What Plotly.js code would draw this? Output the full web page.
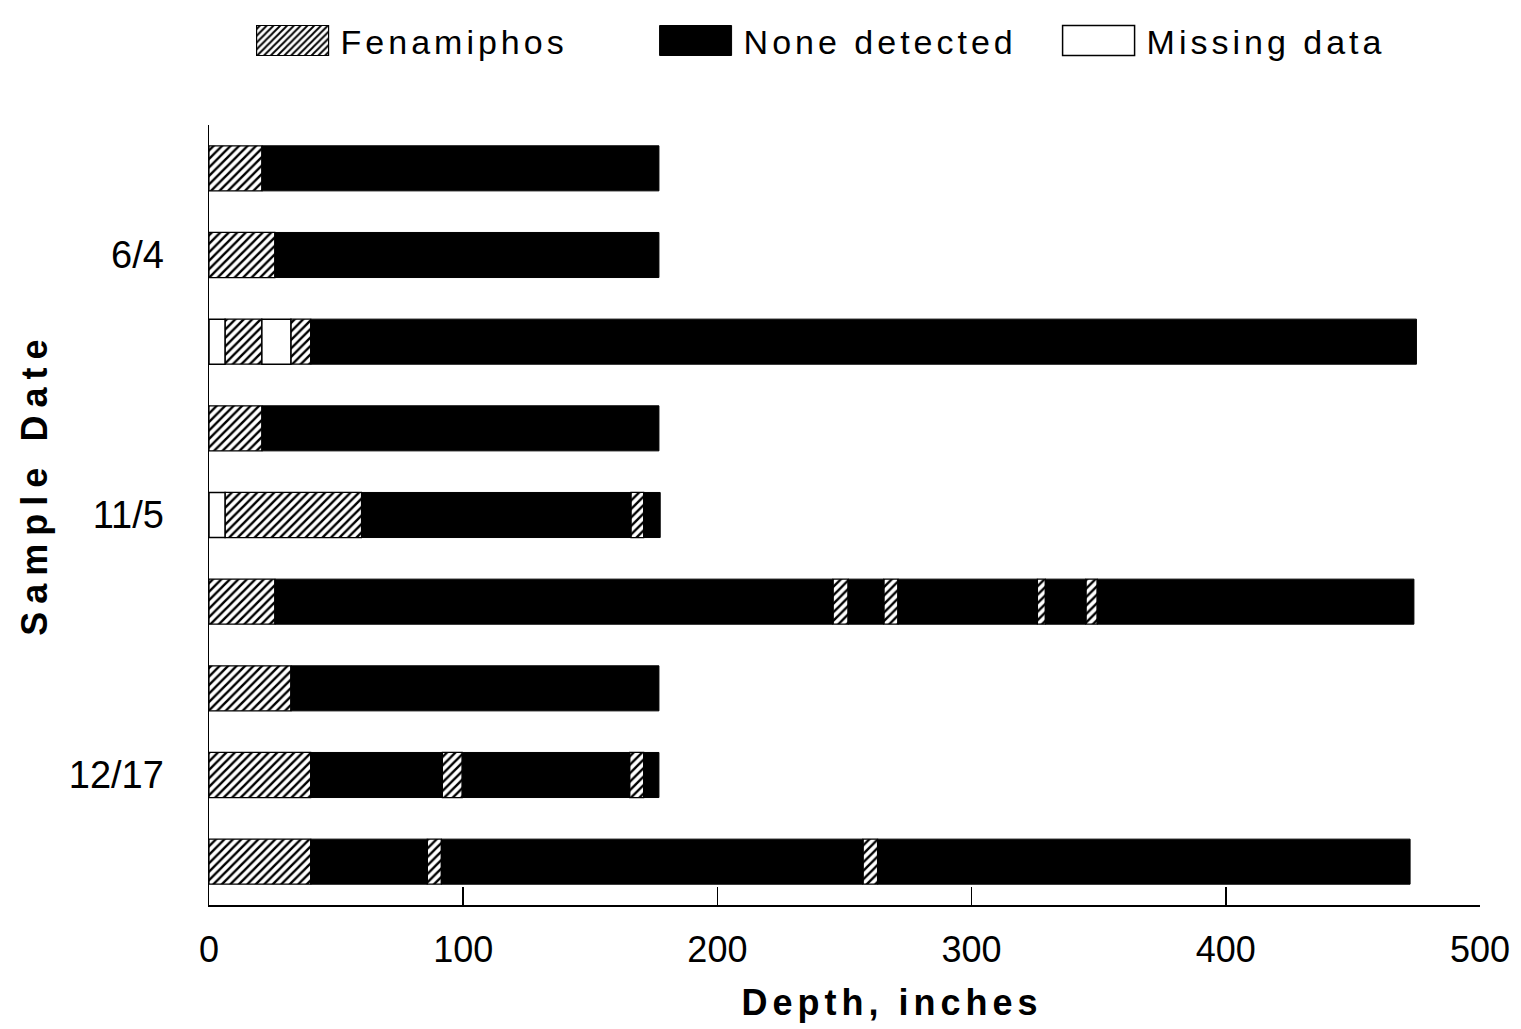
<!DOCTYPE html>
<html>
<head>
<meta charset="utf-8">
<script src="https://cdn.plot.ly/plotly-3.0.1.min.js"></script>
<style>html,body{margin:0;padding:0;background:#fff;} #chart{width:1521px;height:1029px;}</style>
</head>
<body>
<div id="chart"></div>
<script>
// Rows are numbered 1..9 from top to bottom (three cores per sample date)
const dateLabels = ['6/4', '11/5', '12/17'];
const dateLabelRows = [2, 5, 8];
const xTicks = [0, 100, 200, 300, 400, 500];

// Fenamiphos detected segments (row, from depth, to depth), inches
const fenRow  = [1, 2, 3, 3, 4, 5, 5, 6, 6, 6, 6, 6, 7, 8, 8, 8, 9, 9, 9];
const fenFrom = [0, 0, 6.3, 32.2, 0, 6.3, 166, 0, 245.5, 265.5, 325.9, 345, 0, 0, 91.8, 165.5, 0, 85.9, 257.3];
const fenTo   = [20.8, 25.9, 20.8, 40, 20.8, 60, 171, 25.9, 251.4, 271, 329, 349.4, 32.2, 40, 99.6, 171, 40, 91.4, 263];

// None detected segments
const noneRow  = [1, 2, 3, 4, 5, 5, 6, 6, 6, 6, 6, 7, 8, 8, 8, 9, 9, 9];
const noneFrom = [20.8, 25.9, 40, 20.8, 60, 171, 25.9, 251.4, 271, 329, 349.4, 32.2, 40, 99.6, 171, 40, 91.4, 263];
const noneTo   = [177, 177, 475, 177, 166, 177.5, 245.5, 265.5, 325.9, 345, 474, 177, 91.8, 165.5, 177, 85.9, 257.3, 472.5];

// Missing data segments
const missRow  = [3, 3, 5];
const missFrom = [0, 20.8, 0];
const missTo   = [6.3, 32.2, 6.3];

function lens(from, to) { return to.map((t, i) => t - from[i]); }

const barW = 0.52;
const FONT = 'Liberation Sans, Arial, sans-serif';

const traces = [
  {
    type: 'bar', orientation: 'h', name: 'Fenamiphos',
    y: fenRow, base: fenFrom, x: lens(fenFrom, fenTo), width: barW,
    marker: {color: '#ffffff', line: {color: '#000', width: 1.2},
             pattern: {shape: '/', fgcolor: '#000', bgcolor: '#fff', size: 6, solidity: 0.4}},
    hoverinfo: 'skip'
  },
  {
    type: 'bar', orientation: 'h', name: 'None detected',
    y: noneRow, base: noneFrom, x: lens(noneFrom, noneTo), width: barW,
    marker: {color: '#000000', line: {color: '#000', width: 1}},
    hoverinfo: 'skip'
  },
  {
    type: 'bar', orientation: 'h', name: 'Missing data',
    y: missRow, base: missFrom, x: lens(missFrom, missTo), width: barW,
    marker: {color: '#ffffff', line: {color: '#000', width: 1.5}},
    hoverinfo: 'skip'
  }
];

const layout = {
  width: 1521, height: 1029,
  margin: {l: 209, r: 41, t: 121, b: 124},
  paper_bgcolor: '#fff', plot_bgcolor: '#fff',
  barmode: 'overlay',
  showlegend: true,
  legend: {
    orientation: 'h', x: 0.028, xanchor: 'left', y: 1.145, yanchor: 'top',
    font: {family: FONT, size: 34, color: '#000'},
    itemwidth: 86, entrywidth: 302, traceorder: 'normal', bgcolor: 'rgba(0,0,0,0)'
  },
  xaxis: {
    range: [0, 500], tickvals: xTicks, ticktext: xTicks.map(String),
    ticks: 'inside', ticklen: 18, tickwidth: 1.5, tickcolor: '#000',
    showline: true, linecolor: '#000', linewidth: 1.5,
    showgrid: false, zeroline: false,
    ticklabelstandoff: 12,
    tickfont: {family: FONT, size: 36, color: '#000'}
  },
  yaxis: {
    range: [9.5, 0.5], tickvals: dateLabelRows, ticktext: dateLabels,
    ticks: '', showline: true, linecolor: '#000', linewidth: 1.5,
    showgrid: false, zeroline: false,
    ticklabelstandoff: 36,
    tickfont: {family: FONT, size: 38, color: '#000'}
  },
  annotations: [
    {
      text: '<b>Sample Date</b>', textangle: -90, xref: 'paper', yref: 'paper',
      x: -0.137, y: 0.54, xanchor: 'center', yanchor: 'middle', showarrow: false,
      font: {family: FONT, size: 36, color: '#000'}
    },
    {
      text: '<b>Depth, inches</b>', xref: 'paper', yref: 'paper',
      x: 0.537, y: -0.125, xanchor: 'center', yanchor: 'middle', showarrow: false,
      font: {family: FONT, size: 36, color: '#000'}
    }
  ]
};

Plotly.newPlot('chart', traces, layout, {displayModeBar: false, staticPlot: true}).then(function () {
  document.querySelectorAll('.legend .legendpoints path').forEach(function (p) {
    p.setAttribute('d', 'M36,15H-36V-15H36Z');
  });
  document.querySelectorAll('.legend .legendtext').forEach(function (t) {
    t.style.letterSpacing = '4px';
  });
  document.querySelectorAll('.annotation-text').forEach(function (t) {
    t.style.letterSpacing = /Sample/.test(t.textContent) ? '8px' : '5px';
  });
});
</script>
</body>
</html>
